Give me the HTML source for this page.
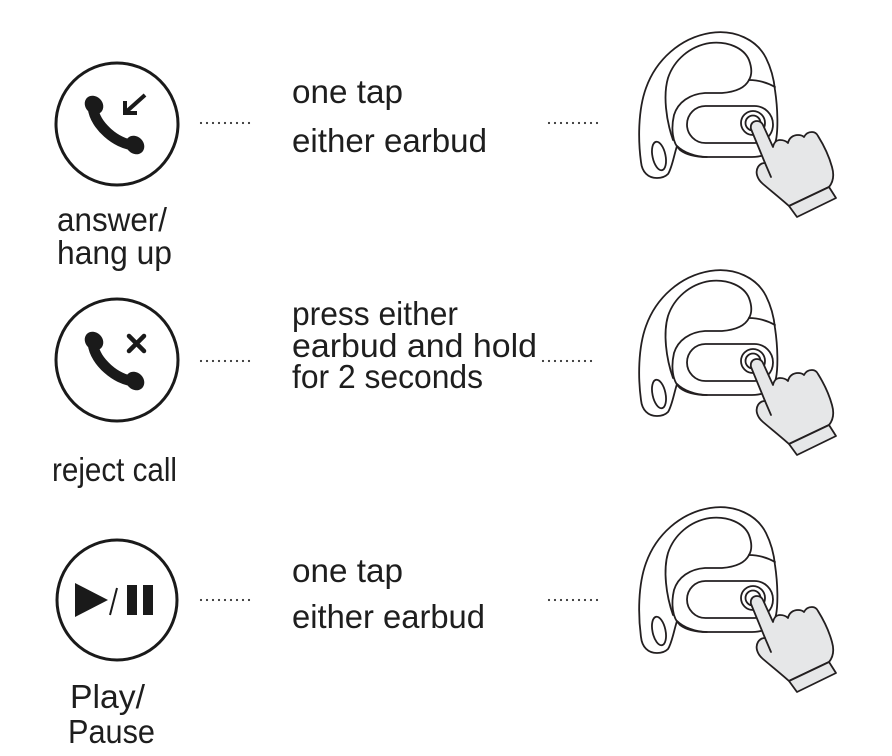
<!DOCTYPE html>
<html>
<head>
<meta charset="utf-8">
<style>
  html,body{margin:0;padding:0;background:#ffffff;}
  svg{display:block;}
  .t{font-family:"Liberation Sans",Arial,sans-serif;font-size:33px;fill:#1e1e1e;}
  .l{font-family:"Liberation Sans",Arial,sans-serif;font-size:33px;fill:#1e1e1e;}
</style>
</head>
<body>
<svg width="892" height="756" viewBox="0 0 892 756" xmlns="http://www.w3.org/2000/svg">
  <defs>
    <g id="ear" fill="none" stroke="#231f20" stroke-width="1.8" stroke-linejoin="round" stroke-linecap="round">
      <path fill="#ffffff" d="M 657,178 C 648,178 642,172 641,162 C 638,140 638,110 646,88 C 656,60 680,38 710,33 C 735,29 757,40 766,58 C 772,70 774,80 775,90 C 778,110 778,130 776,140 C 773,152 765,157 752,157 L 707,157 C 695,157 683,152 677,146 C 674,155 672,168 668,174 C 665,177 661,178 657,178 Z"/>
      <path d="M 673,140 C 666,120 663,95 668,78 C 674,60 690,46 710,43 C 728,41 744,48 749,60 C 752,68 752,75 749,80"/>
      <path d="M 749,80 C 745,88 735,92 722,93 L 705,93 C 690,94 678,102 674,115 C 671,128 672,143 680,150 C 688,156 698,157 707,157"/>
      <path d="M 749,80 C 757,80 766,82 775,87"/>
      <ellipse cx="659" cy="156" rx="6.5" ry="14.5" transform="rotate(-12 659 156)"/>
      <rect x="687" y="106" width="86" height="37" rx="18.5"/>
      <circle cx="753" cy="123" r="12"/>
      <circle cx="753" cy="123" r="7.5"/>
      <path fill="#e6e7e8" d="M 751,129 C 750,124 753,121 757,121 C 760,121 762,123 763,125 L 773,147 C 774,142 777,140 780,140 C 783,140 786,141 788,143 C 789,138 793,135 798,135 C 801,135 803,136 804,137 C 806,133 809,132 812,132 C 815,132 817,134 818,136 C 823,144 829,156 832,167 C 834,174 834,181 829,187 L 789,206 C 780,198 770,190 763,184 C 757,179 755,172 758,167 C 760,164 763,163 765,163 Z"/>
      <path d="M 765,163 L 771,177"/>
      <path fill="#e6e7e8" d="M 789,206 L 829,187 L 836,198 L 797,217 Z"/>
    </g>
    <g id="handset">
      <path d="M -24,-16 C -22,2 0,20 16,21" fill="none" stroke="#1a1a1a" stroke-width="10.5" stroke-linecap="round"/>
      <ellipse cx="-23" cy="-19" rx="10" ry="8.5" transform="rotate(45 -23 -19)" fill="#1a1a1a"/>
      <ellipse cx="18" cy="21" rx="10" ry="8.5" transform="rotate(45 18 21)" fill="#1a1a1a"/>
    </g>
    <g id="dots" fill="#333">
      <circle cx="0" cy="0" r="1.1"/><circle cx="6" cy="0" r="1.1"/><circle cx="12" cy="0" r="1.1"/>
      <circle cx="18" cy="0" r="1.1"/><circle cx="24" cy="0" r="1.1"/><circle cx="30" cy="0" r="1.1"/>
      <circle cx="36" cy="0" r="1.1"/><circle cx="42" cy="0" r="1.1"/><circle cx="48" cy="0" r="1.1"/>
    </g>
  </defs>

  <rect x="0" y="0" width="892" height="756" fill="#ffffff"/>

  <!-- Row 1 -->
  <circle cx="117" cy="124" r="61" fill="none" stroke="#1a1a1a" stroke-width="3"/>
  <g transform="translate(117,124)">
    <use href="#handset"/>
    <path d="M 28,-29 L 9,-12" stroke="#1a1a1a" stroke-width="4" fill="none"/>
    <path d="M 8,-23 L 8,-11 L 20,-11" stroke="#1a1a1a" stroke-width="4" fill="none" stroke-linejoin="miter"/>
  </g>
  <text class="l" x="57" y="231" textLength="110" lengthAdjust="spacingAndGlyphs">answer/</text>
  <text class="l" x="57" y="264" textLength="115" lengthAdjust="spacingAndGlyphs">hang up</text>
  <use href="#dots" transform="translate(201,123)"/>
  <text class="t" x="292" y="103" textLength="111" lengthAdjust="spacingAndGlyphs">one tap</text>
  <text class="t" x="292" y="152" textLength="195" lengthAdjust="spacingAndGlyphs">either earbud</text>
  <use href="#dots" transform="translate(549,123)"/>
  <use href="#ear"/>

  <!-- Row 2 -->
  <circle cx="117" cy="360" r="61" fill="none" stroke="#1a1a1a" stroke-width="3"/>
  <g transform="translate(117,360)">
    <use href="#handset"/>
    <path d="M 12,-24 L 27,-9 M 27,-24 L 12,-9" stroke="#1a1a1a" stroke-width="4.5" stroke-linecap="round" fill="none"/>
  </g>
  <text class="l" x="52" y="481" textLength="125" lengthAdjust="spacingAndGlyphs">reject call</text>
  <use href="#dots" transform="translate(201,361)"/>
  <text class="t" x="292" y="325" textLength="166" lengthAdjust="spacingAndGlyphs">press either</text>
  <text class="t" x="292" y="357" textLength="245" lengthAdjust="spacingAndGlyphs">earbud and hold</text>
  <text class="t" x="292" y="388" textLength="191" lengthAdjust="spacingAndGlyphs">for 2 seconds</text>
  <use href="#dots" transform="translate(543,361)"/>
  <use href="#ear" transform="translate(0,238)"/>

  <!-- Row 3 -->
  <circle cx="117" cy="600" r="60" fill="none" stroke="#1a1a1a" stroke-width="3"/>
  <polygon points="75,583 75,617 108,600" fill="#1a1a1a"/>
  <path d="M 117,588 L 110,615" stroke="#1a1a1a" stroke-width="2" fill="none"/>
  <rect x="127" y="585" width="10" height="30" fill="#1a1a1a"/>
  <rect x="143" y="585" width="10" height="30" fill="#1a1a1a"/>
  <text class="l" x="70" y="708" textLength="75" lengthAdjust="spacingAndGlyphs">Play/</text>
  <text class="l" x="68" y="743" textLength="87" lengthAdjust="spacingAndGlyphs">Pause</text>
  <use href="#dots" transform="translate(201,600)"/>
  <text class="t" x="292" y="582" textLength="111" lengthAdjust="spacingAndGlyphs">one tap</text>
  <text class="t" x="292" y="628" textLength="193" lengthAdjust="spacingAndGlyphs">either earbud</text>
  <use href="#dots" transform="translate(549,600)"/>
  <use href="#ear" transform="translate(0,475)"/>
</svg>
</body>
</html>
